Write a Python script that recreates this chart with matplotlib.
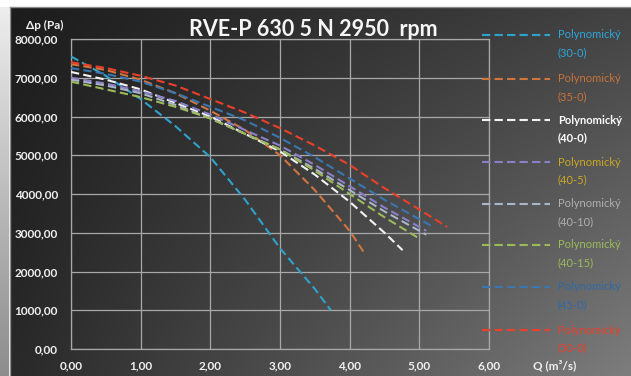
import numpy as np
import matplotlib
matplotlib.use("Agg")
import matplotlib.pyplot as plt
from matplotlib.lines import Line2D

# ---------------- data ----------------
series_names = ["30-0", "35-0", "40-0", "40-5", "40-10", "40-15", "45-0", "50-0"]

x_30_0 = [0.0, 0.5, 1.0, 1.5, 2.0, 2.5, 3.0, 3.5, 3.73]
y_30_0 = [7550, 7050, 6450, 5750, 4950, 3850, 2600, 1550, 1000]

x_35_0 = [0.0, 0.5, 1.0, 1.5, 2.0, 2.5, 3.0, 3.5, 4.0, 4.22]
y_35_0 = [7350, 7200, 6950, 6600, 6150, 5650, 5000, 4100, 3050, 2450]

x_40_0 = [0.0, 0.5, 1.0, 1.5, 2.0, 2.5, 3.0, 3.5, 4.0, 4.5, 4.76]
y_40_0 = [7150, 6950, 6700, 6350, 6000, 5550, 5100, 4500, 3800, 3000, 2550]

x_40_5 = [0.0, 0.5, 1.0, 1.5, 2.0, 2.5, 3.0, 3.5, 4.0, 4.5, 5.1]
y_40_5 = [7000, 6850, 6650, 6400, 6050, 5650, 5250, 4750, 4200, 3650, 3050]

x_40_10 = [0.0, 0.5, 1.0, 1.5, 2.0, 2.5, 3.0, 3.5, 4.0, 4.5, 5.1]
y_40_10 = [6950, 6800, 6600, 6300, 5950, 5550, 5150, 4650, 4100, 3550, 2950]

x_40_15 = [0.0, 0.5, 1.0, 1.5, 2.0, 2.5, 3.0, 3.5, 4.0, 4.5, 5.0]
y_40_15 = [6900, 6700, 6500, 6250, 5950, 5550, 5150, 4600, 4000, 3400, 2850]

x_45_0 = [0.0, 0.5, 1.0, 1.5, 2.0, 2.5, 3.0, 3.5, 4.0, 4.5, 5.2]
y_45_0 = [7250, 7100, 6900, 6600, 6250, 5900, 5450, 4950, 4400, 3850, 3150]

x_50_0 = [0.0, 0.5, 1.0, 1.5, 2.0, 2.5, 3.0, 3.5, 4.0, 4.5, 5.0, 5.4]
y_50_0 = [7400, 7250, 7050, 6800, 6450, 6100, 5700, 5250, 4750, 4150, 3600, 3150]

xs = [x_30_0, x_35_0, x_40_0, x_40_5, x_40_10, x_40_15, x_45_0, x_50_0]
ys = [y_30_0, y_35_0, y_40_0, y_40_5, y_40_10, y_40_15, y_45_0, y_50_0]

x_ticks = [0, 1, 2, 3, 4, 5, 6]
y_ticks = [0, 1000, 2000, 3000, 4000, 5000, 6000, 7000, 8000]

title = "RVE-P 630 5 N 2950  rpm"
y_label = "Δp (Pa)"
x_label = "Q (m³/s)"
legend_prefix = "Polynomický"

# ---------------- styles ----------------
line_colors = ["#2fa2cc", "#d2743e", "#f2f2f2", "#8a80c8", "#a9b5c9", "#9bbb59", "#3a76b0", "#e8402a"]
text_colors = ["#2ea6da", "#c8733a", "#ffffff", "#c9a825", "#b0b0b0", "#9bbb59", "#2f6aa8", "#e8402a"]
FONT = ["Lato", "DejaVu Sans"]

W, H = 631, 376
fig = plt.figure(figsize=(W / 100, H / 100), dpi=100)
fig.patch.set_facecolor("white")

# background with gradient
bg = fig.add_axes([0, 0, 1, 1])
bg.set_xlim(0, W)
bg.set_ylim(H, 0)
bg.axis("off")
gx, gy = np.meshgrid(np.linspace(0, 1, 200), np.linspace(0, 1, 120))
tl, tr, bl, br = 0.11, 0.26, 0.16, 0.49
g = tl * (1 - gx) * (1 - gy) + tr * gx * (1 - gy) + bl * (1 - gx) * gy + br * gx * gy
bg.imshow(np.dstack([g, g, g]), extent=(10, W, H, 7), aspect="auto", interpolation="bilinear", zorder=1)
strip = np.linspace(0.93, 0.55, 100)[:, None]
bg.imshow(np.dstack([strip, strip, strip]), extent=(0, 9, H, 7), aspect="auto", zorder=1)
bg.plot([9.5, 9.5], [7, H], color="#8c8c8c", lw=1, zorder=2)
bg.plot([9.5, W], [6.5, 6.5], color="#8c8c8c", lw=1, zorder=2)

# main axes
L, R, T, B = 71, 489, 39, 349
ax = fig.add_axes([L / W, 1 - B / H, (R - L) / W, (B - T) / H])
ax.set_facecolor("none")
ax.set_xlim(0, 6)
ax.set_ylim(0, 8000)
ax.set_xticks(x_ticks)
ax.set_yticks(y_ticks)
ax.set_xticklabels([f"{v:.2f}".replace(".", ",") for v in x_ticks])
ax.set_yticklabels([f"{v:.2f}".replace(".", ",") for v in y_ticks])
ax.grid(True, color="#a8a8a8", lw=0.9)
for s in ax.spines.values():
    s.set_color("#a8a8a8")
    s.set_linewidth(0.9)
ax.tick_params(length=0, colors="#f0f0f0")
ax.tick_params(axis="y", pad=9.5)
ax.tick_params(axis="x", pad=8.5)
for lab in ax.get_xticklabels() + ax.get_yticklabels():
    lab.set_fontfamily(FONT)
    lab.set_fontweight("bold")
    lab.set_fontsize(8.5)

for x, y, c in zip(xs, ys, line_colors):
    ax.plot(x, y, color=c, lw=1.5, dashes=(4, 2), zorder=3)

# texts
fig.text(313 / W, 1 - 29 / H, title, ha="center", va="center", color="#f5f5f5",
         fontsize=15.5, fontweight="bold", family=FONT)
fig.text(45 / W, 1 - 25 / H, y_label, ha="center", va="center", color="#f0f0f0",
         fontsize=8.5, fontweight="bold", family=FONT)
fig.text(555 / W, 1 - 365 / H, x_label, ha="center", va="center", color="#f0f0f0",
         fontsize=8.5, fontweight="bold", family=FONT)

# legend (manual layout)
leg_y = [35, 79, 120, 162, 204, 245, 287, 330]
for name, lc, tc, yy in zip(series_names, line_colors, text_colors, leg_y):
    fig.add_artist(Line2D([482 / W, 550 / W], [1 - yy / H, 1 - yy / H], color=lc,
                          lw=1.5, dashes=(4, 2), transform=fig.transFigure))
    wt = "bold" if name == "40-0" else "normal"
    fig.text(558 / W, 1 - yy / H, legend_prefix, ha="left", va="center", color=tc,
             fontsize=8, fontweight=wt, family=FONT)
    fig.text(558 / W, 1 - (yy + 18) / H, f"({name})", ha="left", va="center", color=tc,
             fontsize=8, fontweight=wt, family=FONT)

fig.savefig("out.png", dpi=100, facecolor=fig.get_facecolor())
